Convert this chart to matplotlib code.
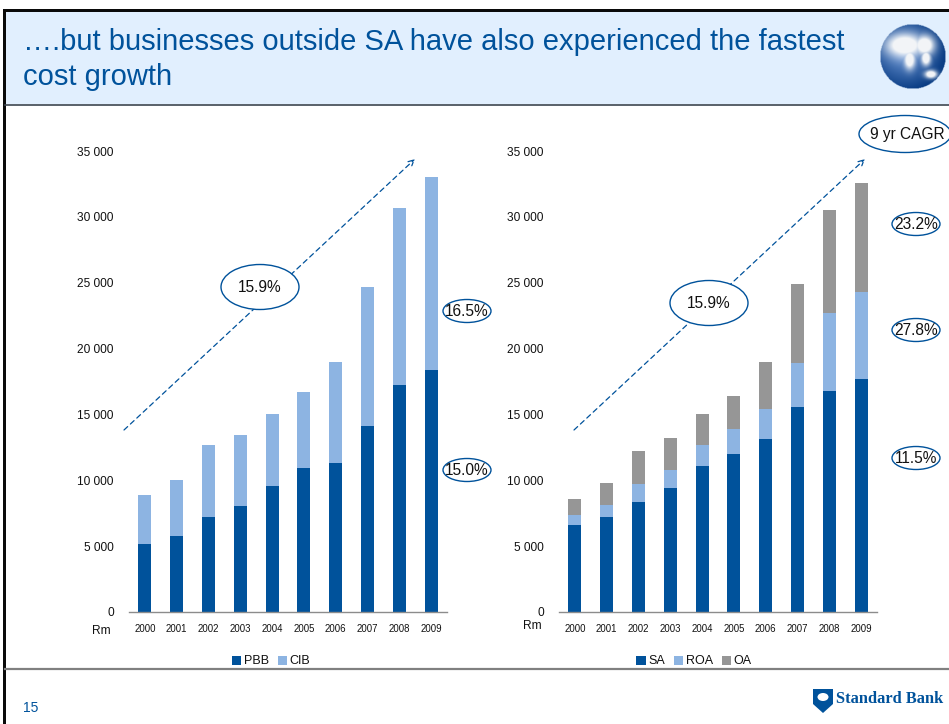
"""Standard Bank slide: cost growth by business, two stacked bar charts."""
import matplotlib

matplotlib.use("Agg")
import matplotlib.pyplot as plt
import numpy as np
from matplotlib.patches import Ellipse, Polygon, Rectangle

plt.rcParams["font.family"] = ["Liberation Sans", "DejaVu Sans"]

W, H = 949, 724
BLUE = "#00529B"
LIGHT = "#8DB4E2"
GREY = "#969696"
HEADER = "#E1EFFE"

years = ["2000", "2001", "2002", "2003", "2004", "2005", "2006", "2007", "2008", "2009"]
y_ticks = [0, 5000, 10000, 15000, 20000, 25000, 30000, 35000]

pbb = [5200, 5750, 7250, 8050, 9600, 10900, 11350, 14150, 17250, 18350]
cib = [3700, 4250, 5400, 5400, 5450, 5800, 7600, 10500, 13450, 14650]

sa = [6600, 7250, 8350, 9450, 11050, 12000, 13100, 15600, 16800, 17700]
roa = [800, 900, 1400, 1350, 1650, 1900, 2300, 3300, 5900, 6600]
oa = [1200, 1650, 2500, 2400, 2300, 2500, 3600, 6000, 7850, 8300]


def axes_px(fig, left, top, right, bottom):
    return fig.add_axes([left / W, 1 - bottom / H, (right - left) / W, (bottom - top) / H])


def stacked(ax, series, labels, colors):
    base = np.zeros(len(years))
    for vals, lab, col in zip(series, labels, colors):
        ax.bar(years, vals, bottom=base, width=0.41, color=col, label=lab)
        base = base + np.array(vals)
    ax.set_xlim(-0.5, 9.5)
    ax.set_ylim(0, 35000)
    ax.set_yticks(y_ticks)
    ax.set_yticklabels([f"{v:,}".replace(",", " ") for v in y_ticks], fontsize=8.6, color="#111111")
    ax.tick_params(axis="y", length=0, pad=11)
    ax.tick_params(axis="x", length=0, pad=9, labelsize=6.9, labelcolor="#111111")
    for s in ("top", "left", "right"):
        ax.spines[s].set_visible(False)
    ax.spines["bottom"].set_color("#8C8C8C")
    ax.spines["bottom"].set_linewidth(1.0)
    ax.patch.set_alpha(0)


fig = plt.figure(figsize=(W / 100, H / 100), dpi=100, facecolor="white")

# slide furniture sits underneath the charts
bg = fig.add_axes([0, 0, 1, 1], zorder=0)
bg.axis("off")
bg.add_patch(Rectangle((5, 11), W - 5, 93, color=HEADER, lw=0))
bg.add_patch(Rectangle((3, 9), W - 3, 2.5, color="#0A0A0A", lw=0))
bg.add_patch(Rectangle((3, 9), 3, H - 9, color="#0A0A0A", lw=0))
bg.plot([5, W], [104.5, 104.5], color="#3C4650", lw=1.2)
bg.plot([5, W], [669, 669], color="#808080", lw=1.6)

bg.text(23, 42, "….but businesses outside SA have also experienced the fastest",
        fontsize=21, color=BLUE, va="center", ha="left")
bg.text(23, 77, "cost growth", fontsize=21, color=BLUE, va="center", ha="left")
bg.text(23, 708, "15", fontsize=10, color=BLUE, va="center", ha="left")

# globe, decoration only: shaded blue sphere with soft pale land blobs
gy, gx = np.mgrid[-1:1:120j, -1:1:120j]
r = np.hypot(gx, gy)
shade = np.clip(np.hypot(gx + 0.25, gy + 0.15) / 1.2, 0, 1) ** 0.8
land = np.zeros_like(r)
for bx, by, sx, sy in [(-0.25, -0.35, 0.55, 0.35), (0.35, -0.35, 0.3, 0.3), (-0.1, 0.1, 0.16, 0.28),
                       (0.4, 0.05, 0.14, 0.22), (0.55, 0.55, 0.18, 0.12)]:
    land = np.maximum(land, np.exp(-((gx - bx) / sx) ** 2 - ((gy - by) / sy) ** 2))
land = np.clip(land * 1.5, 0, 1)
globe = np.zeros((120, 120, 4))
globe[..., 0] = (0.50 - 0.46 * shade) * (1 - land) + 0.95 * land
globe[..., 1] = (0.66 - 0.42 * shade) * (1 - land) + 0.96 * land
globe[..., 2] = (0.90 - 0.38 * shade) * (1 - land) + 0.97 * land
globe[..., 3] = (r <= 1).astype(float)
bg.imshow(globe, extent=(880, 946, 89, 24), interpolation="bilinear", aspect="auto", zorder=2)
bg.set_xlim(0, W)
bg.set_ylim(H, 0)

# logo
bg.add_patch(Polygon([(813, 689), (833, 689), (833, 704), (823, 713), (813, 704)],
                     closed=True, facecolor=BLUE, edgecolor="none"))
bg.add_patch(Ellipse((823, 697), 11, 8, facecolor="white", edgecolor="none"))
bg.text(836, 699, "Standard Bank", fontsize=11.8, fontweight="bold", family="Liberation Serif",
        color=BLUE, va="center", ha="left")

ax1 = axes_px(fig, 129, 151, 447, 612)
ax1.set_zorder(1)
stacked(ax1, [pbb, cib], ["PBB", "CIB"], [BLUE, LIGHT])
ax2 = axes_px(fig, 559, 151, 877, 612)
ax2.set_zorder(1)
stacked(ax2, [sa, roa, oa], ["SA", "ROA", "OA"], [BLUE, LIGHT, GREY])

for ax, cx in ((ax1, 271), (ax2, 694)):
    ax.legend(loc="center", bbox_to_anchor=(cx / W, 1 - 661.5 / H), bbox_transform=fig.transFigure,
              ncol=3, frameon=False, fontsize=9, handlelength=0.75, handleheight=0.75,
              handletextpad=0.2, columnspacing=0.7, borderpad=0, labelcolor="#111111")

# annotations on top
top = fig.add_axes([0, 0, 1, 1], zorder=3)
top.set_xlim(0, W)
top.set_ylim(H, 0)
top.axis("off")
top.patch.set_alpha(0)

top.text(101, 631, "Rm", fontsize=8.6, color="#111111", ha="center", va="center")
top.text(532, 626, "Rm", fontsize=8.6, color="#111111", ha="center", va="center")

for x0 in (124, 574):
    top.annotate("", xy=(x0 + 291, 159), xytext=(x0, 430), zorder=1,
                 arrowprops=dict(arrowstyle="->", color=BLUE, lw=0.9, linestyle=(0, (4, 3)),
                                 mutation_scale=10, shrinkA=0, shrinkB=0, zorder=1))

big = [(260, 287, "15.9%"), (709, 303, "15.9%")]
for cx, cy, txt in big:
    top.add_patch(Ellipse((cx, cy), 78, 45, facecolor="white", edgecolor=BLUE, lw=1.0, zorder=5))
    top.text(cx, cy + 1, txt, fontsize=11.2, color="#111111", ha="center", va="center", zorder=6)

small = [(467, 311, "16.5%"), (467, 470, "15.0%"), (916, 224, "23.2%"),
         (916, 330, "27.8%"), (916, 458, "11.5%")]
for cx, cy, txt in small:
    top.add_patch(Ellipse((cx, cy), 48, 23, facecolor="white", edgecolor=BLUE, lw=1.0, zorder=5))
    top.text(cx, cy + 0.5, txt, fontsize=11.2, color="#111111", ha="center", va="center", zorder=6)

top.add_patch(Ellipse((905, 134), 92, 37, facecolor="white", edgecolor=BLUE, lw=1.0, zorder=5))
top.text(907, 134, "9 yr CAGR", fontsize=11.2, color="#111111", ha="center", va="center", zorder=6)

fig.savefig("out.png", dpi=100)
